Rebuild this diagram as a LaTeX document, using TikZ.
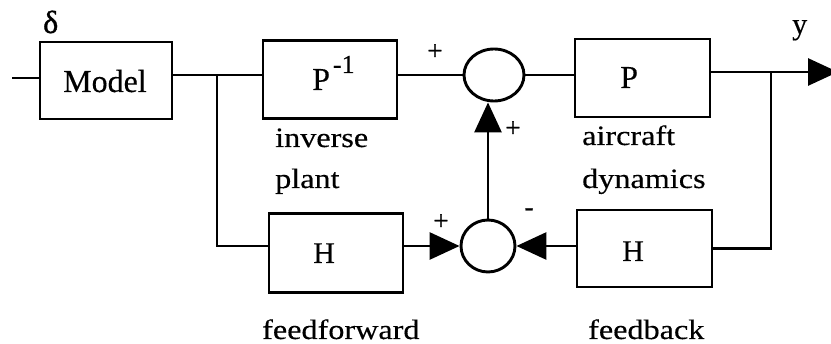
\documentclass[tikz,border=0pt]{standalone}
\usepackage{fontspec}
\setmainfont{Liberation Serif}[FakeBold=0.35]
\newfontfamily\lblfont{Liberation Serif}[FakeStretch=1.15,FakeBold=0.35]
\newfontfamily\sgnfont{Liberation Serif}[FakeBold=1.2]
\usetikzlibrary{arrows.meta,shapes.geometric}
\begin{document}
\begin{tikzpicture}[x=1pt,y=-1pt,
  blk/.style={draw,line width=2.9pt,inner sep=0pt,minimum width=134pt,minimum height=78pt},
  sumnode/.style={draw,ellipse,line width=2.9pt,inner sep=0pt,minimum width=58pt,minimum height=52pt},
  wire/.style={line width=2.9pt},
  arr/.style={wire,-{Triangle[length=30pt,width=27pt]}},
  lbl/.style={anchor=base west,inner sep=0pt,font=\lblfont\fontsize{28}{28}\selectfont},
  blktxt/.style={anchor=base west,inner sep=0pt,font=\fontsize{32}{32}\selectfont},
  sgn/.style={inner sep=0pt,font=\sgnfont\fontsize{27}{27}\selectfont}]
\useasboundingbox (0,0) rectangle (831,344);
\clip (0,0) rectangle (831,344);
% blocks
\node[blk,minimum width=132pt,minimum height=77pt] (model) at (106,80.5) {};
\node[blk] (pinv) at (330,79.5) {};
\node[blk,minimum width=135pt] (plant) at (642.5,78) {};
\node[blk,minimum height=79pt] (ffH) at (336,253) {};
\node[blk,minimum width=135pt,minimum height=77pt] (fbH) at (644.5,248.5) {};
\node[sumnode,minimum width=60pt] (sum1) at (494,75) {};
\node[sumnode,minimum width=54pt] (sum2) at (488,246) {};
% block texts
\node[blktxt] (tmodel) at (63,92) {Model};
\node[blktxt] (tpinv) at (312,90) {P\kern3pt\raisebox{17pt}{\fontsize{26}{26}\selectfont -1}};
\node[blktxt] (tplant) at (620,88) {P};
\node[blktxt,font=\fontsize{30}{30}\selectfont] (tffH) at (313,263) {H};
\node[blktxt,font=\fontsize{30}{30}\selectfont] (tfbH) at (622,261) {H};
% coordinates
\coordinate (in) at (12,78);
\coordinate (jn) at (217,75);
\coordinate (out) at (838,72);
\coordinate (tap) at (771,72);
% wires
\draw[wire] (in) -- (in -| model.west);
\draw[wire] (model.east |- jn) -- (pinv.west |- jn);
\draw[wire] (pinv.east |- sum1) -- (sum1.west);
\draw[wire] (sum1.east) -- (plant.west |- sum1);
\draw[arr] (plant.east |- out) -- (out);
\draw[wire] (jn) |- (ffH.west |- sum2);
\draw[arr] (ffH.east |- sum2) -- (sum2.west);
\draw[wire] (tap) |- (fbH.east);
\draw[arr] (fbH.west |- sum2) -- (sum2.east);
\draw[arr] (sum2.north) -- (sum2.north |- sum1.south);
% labels
\node[anchor=base west,inner sep=0pt,font=\sgnfont\fontsize{32}{32}\selectfont] (delta) at (43,33) {δ};
\node[anchor=base west,inner sep=0pt,font=\fontsize{30}{30}\selectfont] (ylab) at (792,34) {y};
\node[sgn] (p1) at (435,52) {+};
\node[sgn] (p2) at (513,129) {+};
\node[sgn] (p3) at (441,222) {+};
\node[sgn] (m1) at (529,212) {-};
\node[lbl] (l1) at (275,147) {inverse};
\node[lbl] (l2) at (275,188) {plant};
\node[lbl] (l3) at (582,145) {aircraft};
\node[lbl] (l4) at (582,188) {dynamics};
\node[lbl] (l5) at (262,339) {feedforward};
\node[lbl] (l6) at (588,339) {feedback};
\end{tikzpicture}
\end{document}
